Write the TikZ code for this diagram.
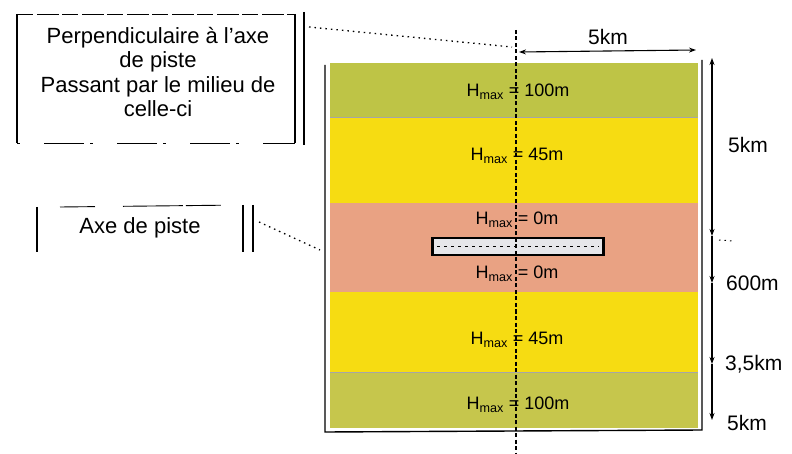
\documentclass[tikz,border=0pt]{standalone}
\usepackage{fontspec}
\setmainfont{Liberation Sans}
\usetikzlibrary{arrows.meta}
\definecolor{bandgreen}{HTML}{BEC446}
\definecolor{bandgreenb}{HTML}{C6C64C}
\definecolor{bandyellow}{HTML}{F6DC12}
\definecolor{bandsalmon}{HTML}{E9A283}
\definecolor{rwgray}{HTML}{E6E6EA}
\begin{document}
\begin{tikzpicture}[x=1pt,y=-1pt,
  band/.style={minimum width=368pt,inner sep=0pt,outer sep=0pt,draw=none},
  hlabel/.style={font=\fontsize{18}{20}\selectfont,inner sep=1pt},
  boxtext/.style={font=\fontsize{22}{24.5}\selectfont,align=center,inner sep=0pt},
  dimlabel/.style={font=\fontsize{21}{24}\selectfont,inner sep=0pt},
  leader/.style={line width=1.3pt,dash pattern=on 1.5pt off 4pt},
  border/.style={line width=1.4pt},
  dimline/.style={line width=1.1pt},
  tip/.style={-{Stealth[length=7pt,width=5pt]}},
  axisline/.style={line width=1.2pt,dash pattern=on 4pt off 2.5pt}
]
\useasboundingbox (0,0) rectangle (792,454);

% bands
\node[band,fill=bandgreen,minimum height=54pt] (b1) at (514,90) {};
\node[band,fill=bandyellow,minimum height=86pt] (b2) at (514,160) {};
\node[band,fill=bandsalmon,minimum height=89pt] (b3) at (514,247.5) {};
\node[band,fill=bandyellow,minimum height=80pt] (b4) at (514,332) {};
\node[band,fill=bandgreenb,minimum height=56pt] (b5) at (514,400) {};
\draw[black!35,line width=0.6pt] (b1.south west) -- (b1.south east);
\draw[black!35,line width=0.6pt] (b4.south west) -- (b4.south east);

% frame
\coordinate (fl1) at (325,65);  \coordinate (fl2) at (325,432);
\coordinate (fr1) at (702,60);  \coordinate (fr2) at (702,430);
\draw[border] (fl1) -- (fl2) -- (fr2) -- (fr1);

% runway
\node[draw,line width=1.2pt,fill=rwgray,minimum width=170pt,minimum height=17pt,inner sep=0pt] (rw) at (518,246.5) {};
\draw[line width=2.2pt] (rw.north west) -- (rw.south west);
\draw[line width=2.2pt] (rw.north east) -- (rw.south east);
\draw[line width=1.4pt,dash pattern=on 2.5pt off 4.5pt] ([xshift=5pt]rw.west) -- ([xshift=-5pt]rw.east);

% axis (perpendicular)
\coordinate (ax1) at (516,30);
\coordinate (ax2) at (516,454);
\draw[axisline] (ax1) -- (ax2);

% H labels
\node[hlabel] (h1) at (518,92) {H\textsubscript{max} = 100m};
\node[hlabel] (h2) at (517,156) {H\textsubscript{max} = 45m};
\node[hlabel] (h3) at (517,220) {H\textsubscript{max} = 0m};
\node[hlabel] (h4) at (517,274) {H\textsubscript{max} = 0m};
\node[hlabel] (h5) at (517,340) {H\textsubscript{max} = 45m};
\node[hlabel] (h6) at (518,405) {H\textsubscript{max} = 100m};

% top-left box
\node[boxtext] (tb) at (158,72) {Perpendiculaire à l'axe\\de piste\\Passant par le milieu de\\celle-ci};
\coordinate (tbnw) at (17,14); \coordinate (tbsw) at (17,143);
\coordinate (tbne) at (295,14); \coordinate (tbse) at (295,143);
\coordinate (tbne2) at (304,12); \coordinate (tbse2) at (304,145);
\draw[border] (tbnw) -- (tbsw);
\draw[border] (tbne) -- (tbse);
\draw[border] (tbne2) -- (tbse2);
\draw[line width=0.9pt,dash pattern=on 16pt off 4pt on 22pt off 3pt] (tbnw) -- (tbne);
\draw[line width=0.9pt,dash pattern=on 3pt off 24pt on 40pt off 6pt] (tbsw) -- (tbse);

% leader from top box to axis
\coordinate (ld1a) at (309,27);
\coordinate (ld1b) at (512,47);
\draw[leader] (ld1a) -- (ld1b);

% axe de piste box
\node[boxtext] (ab) at (140,228) {Axe de piste};
\coordinate (abnw) at (37,207); \coordinate (absw) at (37,252);
\coordinate (abne) at (243,205); \coordinate (abse) at (243,252);
\coordinate (abne2) at (253,205); \coordinate (abse2) at (253,252);
\draw[border] (abnw) -- (absw);
\draw[border] (abne) -- (abse);
\draw[border] (abne2) -- (abse2);
\draw[line width=0.9pt,dash pattern=on 35pt off 28pt on 60pt off 3pt] (60,207) -- (abne);

% leader from axe de piste box to runway
\coordinate (ld2a) at (259,222);
\coordinate (ld2b) at (320,250);
\draw[leader] (ld2a) -- (ld2b);

% top dimension 5km
\coordinate (td1) at (519,52);
\coordinate (td2) at (696,50);
\draw[dimline,{Stealth[length=7pt,width=5pt]}-{Stealth[length=7pt,width=5pt]}] (td1) -- (td2);
\node[dimlabel] (tdl) at (608,37) {5km};

% right dimension line
\coordinate (r0) at (712,58);
\coordinate (r1) at (712,146);
\coordinate (r2) at (712,236);
\coordinate (r3) at (712,283);
\coordinate (r4) at (712,364);
\coordinate (r5) at (712,420);
\draw[dimline,tip] (r1) -- (r0);
\draw[dimline,tip] (r1) -- (r2);
\draw[dimline,tip] (r2) -- (r3);
\draw[dimline,tip] (r3) -- (r4);
\draw[dimline,tip] (r4) -- (r5);
\draw[leader,line width=1pt] (719,240) -- (733,241);

\node[dimlabel] (l1) at (748,145) {5km};
\node[dimlabel,anchor=west] (l2) at (726,283) {600m};
\node[dimlabel,anchor=west] (l3) at (725,364) {3,5km};
\node[dimlabel,anchor=west] (l4) at (727,423) {5km};
\end{tikzpicture}
\end{document}
